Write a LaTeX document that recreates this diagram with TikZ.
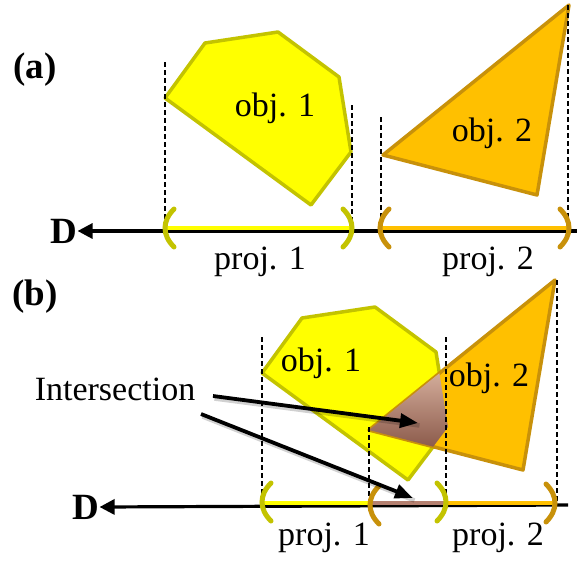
\documentclass[tikz,border=0pt]{standalone}
\usepackage{fontspec}
\setmainfont{Liberation Serif}
\usetikzlibrary{arrows.meta}
\definecolor{objyellow}{RGB}{255,255,0}
\definecolor{oliveedge}{RGB}{195,195,0}
\definecolor{objorange}{RGB}{255,192,0}
\definecolor{orangeedge}{RGB}{200,145,10}
\definecolor{brownlight}{RGB}{214,176,158}
\definecolor{browndark}{RGB}{135,85,70}
\definecolor{brownseg}{RGB}{180,128,112}
\begin{document}
\begin{tikzpicture}[x=1pt,y=-1pt,
 txt/.style={inner sep=0pt, font=\fontsize{34}{40}\selectfont},
 lbl/.style={inner sep=0pt, font=\fontsize{37}{44}\selectfont\bfseries},
 obja/.style={fill=objyellow, draw=oliveedge, line width=3.5pt, line join=round},
 objb/.style={fill=objorange, draw=orangeedge, line width=3.5pt, line join=round},
 guide/.style={line width=1.4pt, dash pattern=on 5pt off 3pt},
 axisline/.style={line width=3.2pt, -{Triangle[length=15pt,width=15pt]}},
 seg/.style={line width=3.5pt},
 pointer/.style={line width=3.8pt, -{Triangle[length=18pt,width=14pt]}},
 pshadow/.style={line width=4.5pt, black, opacity=0.18},
 lbr/.pic={\draw[line width=5pt, line cap=round] (9,-19) .. controls (-3,-7) and (-3,7) .. (9,19);},
 rbr/.pic={\draw[line width=5pt, line cap=round] (-9,-19) .. controls (3,-7) and (3,7) .. (-9,19);}
]
\useasboundingbox (0,0) rectangle (577,560);

% ---------------- (a) ----------------
\node[lbl] (la) at (35,70) {(a)};
\draw[obja] (165,98) -- (205,43) -- (278,32) -- (339,77) -- (351,152) -- (311,205) -- cycle;
\draw[objb] (383,155) -- (569,5) -- (537,195) -- cycle;

\node[lbl] (Da) at (64,231) {D};
\coordinate (aend) at (577,231);
\draw[axisline] (aend) -- (Da.east);
\draw[seg, objyellow] (165,228) -- (352,228);
\draw[seg, objorange] (381,228) -- (568,228);

\draw[guide] (165,62) -- (165,228);
\draw[guide] (352,105) -- (352,228);
\draw[guide] (381,117) -- (381,228);
\draw[guide] (568,5) -- (568,228);

\pic[color=oliveedge] at (165,228) {lbr};
\pic[color=oliveedge] at (352,228) {rbr};
\pic[color=orangeedge] at (380,228) {lbr};
\pic[color=orangeedge] at (569,228) {rbr};

\node[txt] (o1a) at (275,108) {obj. 1};
\node[txt] (o2a) at (492,133) {obj. 2};
\node[txt] (p1a) at (260,262) {proj. 1};
\node[txt] (p2a) at (488,262) {proj. 2};

% ---------------- (b) ----------------
\node[lbl] (lb) at (35,297) {(b)};
\draw[obja] (262,373) -- (302,318) -- (375,307) -- (436,352) -- (448,427) -- (408,480) -- cycle;
\draw[objb] (369,430) -- (555,280) -- (523,470) -- cycle;
\begin{scope}
 \clip (262,373) -- (302,318) -- (375,307) -- (436,352) -- (448,427) -- (408,480) -- cycle;
 \clip (369,430) -- (555,280) -- (523,470) -- cycle;
 \shade[top color=brownlight, bottom color=browndark] (360,370) rectangle (455,452);
\end{scope}

\node[lbl] (Db) at (86,507) {D};
\coordinate (bend) at (568,505);
\draw[axisline] (bend) -- (Db.east);
\draw[seg, objyellow] (262,503) -- (369,503);
\draw[seg, brownseg] (369,503) -- (446,503);
\draw[seg, objorange] (446,503) -- (556,503);

\draw[guide] (262,337) -- (262,503);
\draw[guide] (446,337) -- (446,503);
\draw[guide] (369,427) -- (369,503);
\draw[guide] (557,280) -- (557,503);

\pic[color=oliveedge] at (262,502) {lbr};
\pic[color=oliveedge] at (446,502) {rbr};
\pic[color=orangeedge] at (370,505) {lbr};
\pic[color=orangeedge] at (555,503) {rbr};

\node[txt] (o1b) at (321,363) {obj. 1};
\node[txt] (o2b) at (489,378) {obj. 2};
\node[txt] (p1b) at (324,538) {proj. 1};
\node[txt] (p2b) at (498,538) {proj. 2};

\node[txt] (inter) at (115,389) {Intersection};
\coordinate (s1) at (213,396);
\coordinate (t1) at (418,423);
\coordinate (s2) at (201,414);
\coordinate (t2) at (413,498);
\draw[pshadow, transform canvas={shift={(1.5pt,-2.5pt)}}] (s1) -- (t1);
\draw[pshadow, transform canvas={shift={(1.5pt,-2.5pt)}}] (s2) -- (t2);
\draw[pointer] (s1) -- (t1);
\draw[pointer] (s2) -- (t2);
\end{tikzpicture}
\end{document}
